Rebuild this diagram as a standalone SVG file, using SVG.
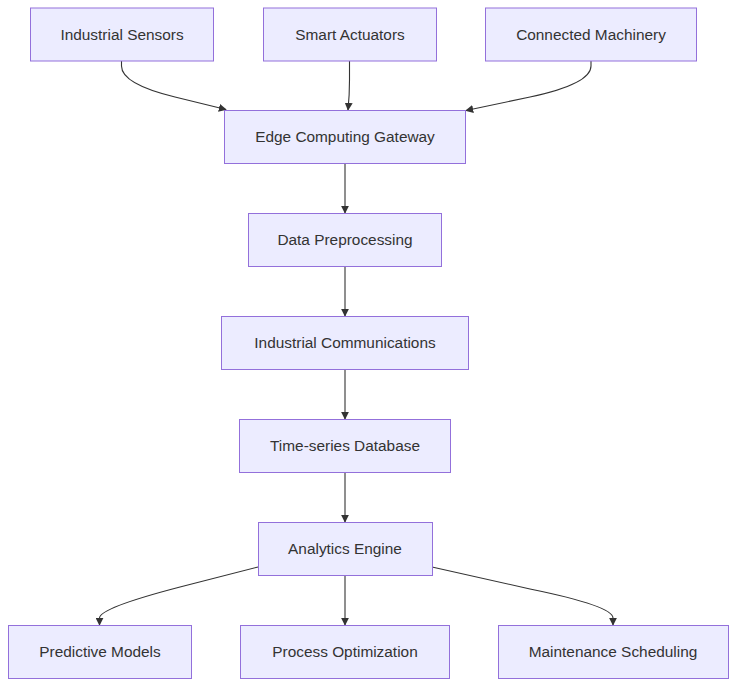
<svg xmlns="http://www.w3.org/2000/svg" width="744" height="694" viewBox="0 0 744 694">
<defs>
<style>
.node rect{fill:#ECECFF;stroke:#9370DB;stroke-width:1}
.node text{font-family:"Liberation Sans",Arial,sans-serif;font-size:15.4px;fill:#333;text-anchor:middle}
.edges path{fill:none;stroke:#333;stroke-width:1.1}
</style>
<marker id="arrow" viewBox="0 0 10 10" refX="9" refY="5" markerWidth="8" markerHeight="8" markerUnits="userSpaceOnUse" orient="auto">
<path d="M0,0 L10,5 L0,10 z" fill="#333"/>
</marker>
</defs>
<rect width="744" height="694" fill="#fff"/>
<g class="edges">
<path d="M121.5,61 L121.5,66 Q121.5,84 175,97 L226,109.5" marker-end="url(#arrow)"/>
<path d="M349.5,61 L349.5,80 Q349.5,95 348,110" marker-end="url(#arrow)"/>
<path d="M591,61 L591,66 Q591,84 530,97 L466,110.5" marker-end="url(#arrow)"/>
<path d="M345,164 L345,213" marker-end="url(#arrow)"/>
<path d="M345,267 L345,316" marker-end="url(#arrow)"/>
<path d="M345,370 L345,419" marker-end="url(#arrow)"/>
<path d="M345,473 L345,522" marker-end="url(#arrow)"/>
<path d="M258,567 L180,587 Q99.5,608 99.5,618 L99.5,625" marker-end="url(#arrow)"/>
<path d="M345,576 L345,625" marker-end="url(#arrow)"/>
<path d="M432,567 L530,589 Q613,606 613,618 L613,625" marker-end="url(#arrow)"/>
</g>
<g id="n1" class="node"><rect x="30.5" y="8" width="183" height="53"/><text x="122" y="40">Industrial Sensors</text></g>
<g id="n2" class="node"><rect x="263.5" y="8" width="173" height="53"/><text x="350" y="40">Smart Actuators</text></g>
<g id="n3" class="node"><rect x="485.5" y="8" width="211" height="53"/><text x="591" y="40">Connected Machinery</text></g>
<g id="n4" class="node"><rect x="224.5" y="110.5" width="241" height="53"/><text x="345" y="142">Edge Computing Gateway</text></g>
<g id="n5" class="node"><rect x="248.5" y="213.5" width="193" height="53"/><text x="345" y="245">Data Preprocessing</text></g>
<g id="n6" class="node"><rect x="221.5" y="316.5" width="247" height="53"/><text x="345" y="348">Industrial Communications</text></g>
<g id="n7" class="node"><rect x="239.5" y="419.5" width="211" height="53"/><text x="345" y="451">Time-series Database</text></g>
<g id="n8" class="node"><rect x="258.5" y="522.5" width="174" height="53"/><text x="345" y="554">Analytics Engine</text></g>
<g id="n9" class="node"><rect x="8.5" y="625.5" width="183" height="53"/><text x="100" y="657">Predictive Models</text></g>
<g id="n10" class="node"><rect x="240.5" y="625.5" width="209" height="53"/><text x="345" y="657">Process Optimization</text></g>
<g id="n11" class="node"><rect x="498.5" y="625.5" width="230" height="53"/><text x="613" y="657">Maintenance Scheduling</text></g>
</svg>
